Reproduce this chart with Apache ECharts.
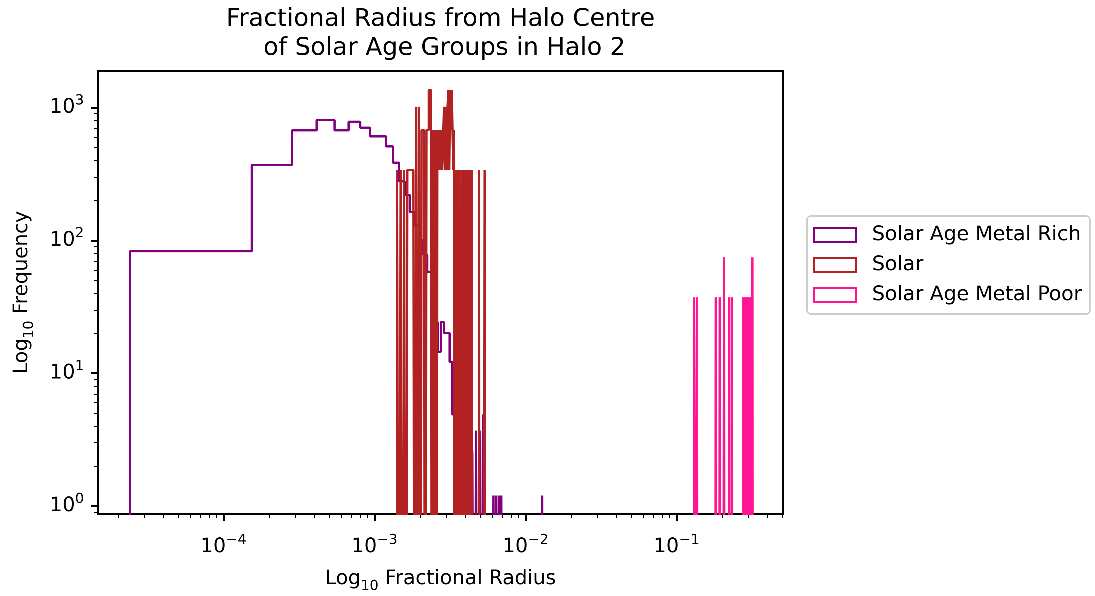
<!DOCTYPE html>
<html>
<head>
<meta charset="utf-8">
<script src="https://cdn.jsdelivr.net/npm/echarts@6/dist/echarts.min.js"></script>
<style>
  html, body { margin: 0; padding: 0; background: #ffffff; }
  #chart { width: 1095px; height: 596px; }
</style>
</head>
<body>
<div id="chart"></div>
<script>
// Histogram definitions: each group is binned into equal-width bins of fractional radius.
const binCount = 100;
const metalRichRange = [2.40e-5, 1.302e-2];
const solarRange = [1.41e-3, 5.40e-3];
const metalPoorRange = [0.1308, 0.3199];

// Non-empty bins: [bin index, frequency density]
const metalRichBins = [
  [0, 83], [1, 370], [2, 675], [3, 807], [4, 675], [5, 783], [6, 706], [7, 608],
  [8, 608], [9, 511], [10, 385], [11, 279], [12, 220], [13, 164], [14, 130], [15, 100],
  [16, 78], [17, 58], [18, 40], [19, 24.3], [20, 14.5], [21, 24.3], [22, 20.1], [23, 20.1],
  [24, 12.2], [25, 4.9], [26, 7.4], [27, 7.4], [28, 6.2], [29, 4.9], [30, 6.2], [31, 4.9],
  [32, 3.7], [33, 4.9], [34, 2.5], [36, 3.7], [38, 3.7], [40, 4.9], [41, 1.2],
  [47, 1.2], [49, 1.2], [51, 1.2], [53, 1.2], [99, 1.2]
];
const solarBins = [
  [0, 339], [2, 339], [4, 339], [6, 339], [7, 339], [8, 339], [9, 339], [10, 339],
  [12, 1017], [14, 1017], [16, 678], [17, 678], [18, 678], [20, 678], [21, 678],
  [22, 1356], [23, 1356], [24, 1017], [26, 678], [28, 678], [30, 678], [31, 339],
  [32, 678], [33, 339], [34, 678], [35, 339], [36, 339], [37, 1017], [38, 339],
  [39, 1017], [40, 339], [41, 1017], [42, 1356], [43, 339], [44, 1356], [45, 678],
  [46, 1356], [47, 678], [48, 339], [49, 678], [51, 339], [53, 339], [55, 339],
  [56, 339], [57, 339], [59, 339], [61, 339], [63, 339], [65, 339], [67, 339],
  [69, 339], [71, 339], [73, 339], [75, 339], [88, 339], [99, 339]
];
const metalPoorBins = [
  [0, 37.3], [3, 37.3], [27, 37.3], [33, 37.3], [40, 74.6], [49, 37.3], [54, 37.3],
  [77, 37.3], [80, 37.3], [83, 37.3], [86, 37.3], [89, 37.3], [92, 37.3], [95, 37.3],
  [97, 37.3], [99, 74.6]
];

const seriesNames = ['Solar Age Metal Rich', 'Solar', 'Solar Age Metal Poor'];
const seriesColors = ['#800080', '#b22222', '#ff1493'];

// Axis limits (log10 of radius / frequency) and decade tick exponents
const xExtent = [-4.831, -0.295];
const yExtent = [-0.060, 3.276];
const xTickExponents = [-4, -3, -2, -1];
const yTickExponents = [0, 1, 2, 3];

const FONT = 'DejaVu Sans';
const floorY = yExtent[0] - 4;   // empty bins fall below the plotting area

// Step outline of a histogram in log10-log10 space
function stepOutline(range, bins) {
  const lo = range[0], hi = range[1];
  const width = (hi - lo) / binCount;
  const density = new Array(binCount).fill(0);
  bins.forEach(function (b) { density[b[0]] = b[1]; });
  const pts = [[Math.log10(lo), floorY]];
  for (let k = 0; k < binCount; k++) {
    const edge = lo + k * width;
    pts.push([Math.log10(edge), density[k] > 0 ? Math.log10(density[k]) : floorY]);
  }
  pts.push([Math.log10(hi), floorY]);
  return pts;
}

// Minor tick positions at 2..9 times each power of ten
function minorLogTicks(extent) {
  const out = [];
  for (let n = Math.floor(extent[0]) - 1; n <= Math.ceil(extent[1]); n++) {
    for (let m = 2; m <= 9; m++) {
      const v = n + Math.log10(m);
      if (v > extent[0] && v < extent[1]) out.push(v);
    }
  }
  return out;
}

const outlines = [
  stepOutline(metalRichRange, metalRichBins),
  stepOutline(solarRange, solarBins),
  stepOutline(metalPoorRange, metalPoorBins)
];

const tickRich = {
  b: { fontFamily: FONT, fontSize: 20, lineHeight: 28, color: '#000', verticalAlign: 'middle' },
  s: { fontFamily: FONT, fontSize: 14, lineHeight: 14, color: '#000', verticalAlign: 'top' }
};
const nameRich = {
  n: { fontFamily: FONT, fontSize: 20, lineHeight: 28, color: '#000', verticalAlign: 'middle' },
  sub: { fontFamily: FONT, fontSize: 14, lineHeight: 14, color: '#000', verticalAlign: 'bottom' }
};
function powerLabel(v) {
  const e = Math.round(v);
  return '{b|10}{s|' + (e < 0 ? '\u2212' + Math.abs(e) : String(e)) + '}';
}

const majorTick = { show: true, length: 7, lineStyle: { color: '#000', width: 1.6 } };
const minorTick = { show: true, length: 4, lineStyle: { color: '#000', width: 1.2 } };
const hiddenLine = { show: false, onZero: false };

// A fine backing store keeps sub-pixel histogram steps from being merged
const chart = echarts.init(document.getElementById('chart'), null, { renderer: 'canvas', devicePixelRatio: 4 });
chart.setOption({
  animation: false,
  backgroundColor: '#ffffff',
  title: {
    text: 'Fractional Radius from Halo Centre\n of Solar Age Groups in Halo 2',
    left: 440.5, top: 5, padding: 0, textAlign: 'center',
    textStyle: { fontFamily: FONT, fontSize: 24.6, fontWeight: 'normal', color: '#000', lineHeight: 29 }
  },
  grid: {
    left: 98, top: 71, width: 685, height: 443,
    show: true, borderColor: '#000', borderWidth: 1.5, backgroundColor: 'transparent',
    containLabel: false, outerBoundsMode: 'none'
  },
  legend: {
    orient: 'vertical', left: 807, top: 216,
    padding: [9, 8, 9, 6], itemWidth: 42, itemHeight: 14, itemGap: 10,
    backgroundColor: 'rgba(255,255,255,0.8)', borderColor: '#cccccc', borderWidth: 1.5, borderRadius: 4,
    selectedMode: false,
    textStyle: { fontFamily: FONT, fontSize: 20.2, color: '#000', padding: [0, 0, 0, 11] },
    data: seriesNames.map(function (name, i) {
      return { name: name, icon: 'rect',
        itemStyle: { color: 'rgba(255,255,255,0)', borderColor: seriesColors[i], borderWidth: 2 } };
    })
  },
  xAxis: [
    {
      type: 'value', min: xExtent[0], max: xExtent[1], position: 'bottom',
      axisLine: hiddenLine, splitLine: { show: false },
      axisTick: Object.assign({ customValues: xTickExponents }, majorTick),
      axisLabel: { customValues: xTickExponents, margin: 19, formatter: powerLabel, rich: tickRich },
      name: '{n|Log}{sub|10}{n| Fractional Radius}', nameLocation: 'middle', nameGap: 51,
      nameTextStyle: { rich: nameRich }
    },
    {
      type: 'value', min: xExtent[0], max: xExtent[1], position: 'bottom',
      axisLine: hiddenLine, splitLine: { show: false }, axisLabel: { show: false },
      axisTick: Object.assign({ customValues: minorLogTicks(xExtent) }, minorTick)
    }
  ],
  yAxis: [
    {
      type: 'value', min: yExtent[0], max: yExtent[1], position: 'left',
      axisLine: hiddenLine, splitLine: { show: false },
      axisTick: Object.assign({ customValues: yTickExponents }, majorTick),
      axisLabel: { customValues: yTickExponents, margin: 14, formatter: powerLabel, rich: tickRich },
      name: '{n|Log}{sub|10}{n| Frequency}', nameLocation: 'middle', nameGap: 62, nameRotate: 90,
      nameTextStyle: { rich: nameRich }
    },
    {
      type: 'value', min: yExtent[0], max: yExtent[1], position: 'left',
      axisLine: hiddenLine, splitLine: { show: false }, axisLabel: { show: false },
      axisTick: Object.assign({ customValues: minorLogTicks(yExtent) }, minorTick)
    }
  ],
  series: outlines.map(function (pts, i) {
    return {
      name: seriesNames[i], type: 'line', step: 'end', data: pts,
      xAxisIndex: 0, yAxisIndex: 0,
      showSymbol: false, symbol: 'none', clip: true, silent: true,
      lineStyle: { color: seriesColors[i], width: 2.3 },
      itemStyle: { color: seriesColors[i] },
      z: 2 + i
    };
  })
});
</script>
</body>
</html>
